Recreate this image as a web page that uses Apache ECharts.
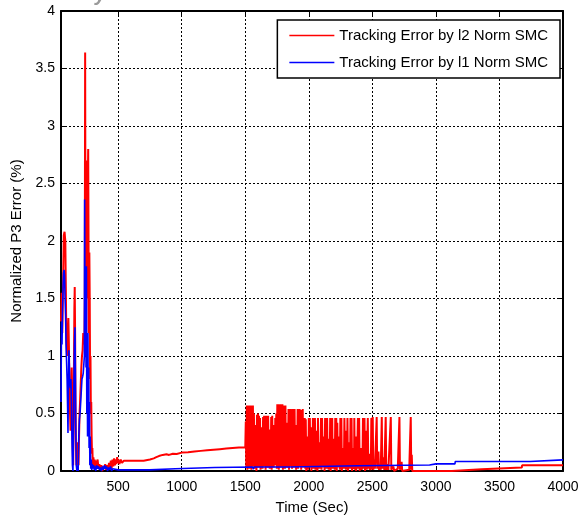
<!DOCTYPE html>
<html><head><meta charset="utf-8">
<script src="https://cdn.jsdelivr.net/npm/echarts@6/dist/echarts.min.js"></script>
<style>html,body{margin:0;padding:0;background:#fff}#c{width:578px;height:521px}</style>
</head><body><div id="c"></div>
<script>
const xTickValues = [500,1000,1500,2000,2500,3000,3500,4000];
const yTickValues = [0,0.5,1,1.5,2,2.5,3,3.5,4];
const seriesNames = ['Tracking Error by l2 Norm SMC','Tracking Error by l1 Norm SMC'];
const xAxisName = 'Time (Sec)';
const yAxisName = 'Normalized P3 Error (%)';

// l2 norm SMC (red)
const redEarly = [[50,1.3],[55,1.55],[60,1.2],[66,1.6],[72,2.05],[78,2.08],[84,2.0],[88,1.6],[92,1.15],[97,1.0],[102,1.15],[108,1.33],[112,1.1],[116,0.8],[120,0.55],[125,0.35],[130,0.6],[134,0.9],[138,0.5],[142,0.2],[146,0.05],[150,0.6],[155,1.4],[158,1.6],[161,1.2],[164,0.6],[168,0.2],[172,0.05],[176,0.25],[180,0.1],[184,0.2],[188,0.05],[192,0.3],[196,0.5],[200,0.6],[205,0.75],[210,0.9],[215,1.0],[220,1.05],[225,1.2],[230,1.2],[234,1.1],[237,1.5],[240,3.64],[243,1.6],[246,1.9],[249,1.2],[252,2.2],[255,2.7],[258,1.5],[261,2.5],[264,2.8],[267,1.9],[270,1.2],[273,1.9],[276,1.5],[279,0.8],[282,1.0],[285,0.5],[288,0.6],[291,0.3],[294,0.15],[297,0.2]];
const redNoise = [[300,0.05],[305,0.12],[310,0.03],[315,0.1],[320,0.02],[325,0.09],[330,0.04],[338,0.1],[345,0.02],[352,0.06],[360,0.01],[368,0.05],[375,0.0],[383,0.04],[390,0.02],[398,0.06],[405,0.01],[412,0.05],[420,0.02],[428,0.07],[435,0.03],[442,0.09],[448,0.02],[455,0.1],[462,0.04],[468,0.11],[474,0.05],[480,0.1],[486,0.06],[492,0.12],[496,0.07]];
const redRamp = [[500,0.1],[510,0.06],[520,0.1],[530,0.07],[545,0.09],[560,0.08],[600,0.09],[650,0.09],[700,0.09],[750,0.1],[780,0.11],[800,0.12],[820,0.13],[835,0.125],[850,0.14],[865,0.135],[880,0.145],[900,0.14],[930,0.15],[960,0.148],[1000,0.16],[1050,0.163],[1100,0.17],[1150,0.175],[1200,0.18],[1250,0.185],[1300,0.19],[1350,0.195],[1400,0.2],[1450,0.205],[1500,0.205]];
const redOscA = [[1504,0.43],[1508,0.03],[1512,0.57],[1516,0.01],[1520,0.57],[1524,0.04],[1528,0.56],[1532,0.02],[1536,0.57],[1540,0.05],[1544,0.57],[1548,0.01],[1552,0.55],[1556,0.04],[1560,0.57],[1564,0.06],[1568,0.5],[1572,0.02],[1576,0.38],[1580,0.05],[1584,0.4],[1588,0.0],[1592,0.49],[1596,0.05],[1600,0.5],[1604,0.03],[1608,0.48],[1612,0.06],[1616,0.46],[1620,0.01],[1624,0.35],[1628,0.05],[1632,0.38],[1636,0.02],[1640,0.47],[1644,0.07],[1648,0.48],[1652,0.04],[1656,0.42],[1660,0.01],[1664,0.48],[1668,0.07],[1672,0.46],[1676,0.03],[1680,0.48],[1684,0.06],[1688,0.3],[1692,0.02],[1696,0.36],[1700,0.06],[1704,0.47],[1708,0.01],[1712,0.48],[1716,0.05],[1720,0.38],[1724,0.03],[1728,0.4],[1732,0.05],[1736,0.46],[1740,0.08],[1744,0.5],[1748,0.02],[1752,0.58],[1756,0.04],[1760,0.58],[1764,0.01],[1768,0.57],[1772,0.05],[1776,0.58],[1780,0.03],[1784,0.47],[1788,0.06],[1792,0.58],[1796,0.01],[1800,0.57],[1804,0.07],[1808,0.55],[1812,0.02],[1816,0.57],[1820,0.05],[1824,0.4],[1828,0.03],[1832,0.42],[1836,0.08],[1840,0.54],[1844,0.01],[1848,0.53],[1852,0.04],[1856,0.54],[1860,0.07],[1864,0.45],[1868,0.02],[1872,0.54],[1876,0.06],[1880,0.52],[1884,0.03],[1888,0.54],[1892,0.05],[1896,0.35],[1900,0.01],[1904,0.4],[1908,0.06],[1912,0.54],[1916,0.02],[1920,0.5],[1924,0.08],[1928,0.54],[1932,0.04],[1936,0.47],[1940,0.01],[1944,0.53],[1948,0.06],[1952,0.54],[1956,0.03],[1960,0.46],[1964,0.05]];
const redOscB = [[1968,0.46],[1972,0.02],[1976,0.45],[1980,0.0],[1984,0.3],[1988,0.05],[1992,0.28],[1996,0.01],[2000,0.46],[2004,0.12],[2008,0.46],[2012,0.03],[2016,0.38],[2020,0.0],[2024,0.2],[2028,0.08],[2032,0.46],[2036,0.02],[2040,0.44],[2044,0.15],[2048,0.46],[2052,0.01],[2056,0.35],[2060,0.04],[2064,0.3],[2068,0.0],[2072,0.46],[2076,0.1],[2080,0.25],[2084,0.02],[2088,0.22],[2092,0.06],[2096,0.46],[2100,0.01],[2104,0.46],[2108,0.18],[2112,0.3],[2116,0.03],[2120,0.3],[2124,0.0],[2128,0.46],[2132,0.07],[2136,0.45],[2140,0.02],[2144,0.46],[2148,0.12],[2152,0.22],[2156,0.01],[2160,0.28],[2164,0.04],[2168,0.46],[2172,0.0],[2176,0.38],[2180,0.09],[2184,0.46],[2188,0.02],[2192,0.2],[2196,0.14],[2200,0.28],[2204,0.01],[2208,0.46],[2212,0.05],[2216,0.46],[2220,0.0],[2224,0.42],[2228,0.11],[2232,0.25],[2236,0.03],[2240,0.3],[2244,0.01],[2248,0.46],[2252,0.06],[2256,0.46],[2260,0.0],[2264,0.18],[2268,0.1],[2272,0.2],[2276,0.02],[2280,0.46],[2284,0.16],[2288,0.35],[2292,0.01],[2296,0.3],[2300,0.04],[2304,0.46],[2308,0.0],[2312,0.25],[2316,0.08],[2320,0.15],[2324,0.02],[2328,0.46],[2332,0.13],[2336,0.46],[2340,0.0],[2344,0.2],[2348,0.05]];
const redOscC = [[2356,0.02],[2358,0.46],[2362,0.01],[2368,0.3],[2372,0.0],[2380,0.08],[2386,0.46],[2390,0.02],[2396,0.46],[2400,0.0],[2406,0.1],[2412,0.2],[2416,0.01],[2422,0.05],[2426,0.46],[2430,0.02],[2438,0.46],[2442,0.0],[2448,0.12],[2452,0.35],[2456,0.01],[2464,0.46],[2468,0.02],[2476,0.15],[2480,0.01],[2488,0.04],[2492,0.46],[2496,0.01]];
const redOscD = [[2500,0.02],[2503,0.47],[2507,0.01],[2515,0.1],[2520,0.02],[2530,0.01],[2534,0.47],[2538,0.02],[2548,0.17],[2552,0.01],[2560,0.05],[2566,0.01],[2574,0.47],[2578,0.02],[2590,0.12],[2594,0.01],[2605,0.47],[2609,0.01],[2620,0.06],[2626,0.01],[2645,0.47],[2649,0.01],[2665,0.04],[2672,0.0],[2700,0.02],[2713,0.47],[2717,0.01],[2730,0.08],[2735,0.0],[2790,0.01],[2802,0.47],[2806,0.01],[2810,0.14],[2814,0.0]];
const redTail = [[3125,0.0],[3127,0.015],[3360,0.015],[3362,0.03],[3676,0.03],[3678,0.05],[4000,0.05]];

// l1 norm SMC (blue)
const blueEarly = [[50,0.6],[54,1.3],[58,1.1],[62,1.4],[66,1.6],[70,1.72],[74,1.75],[78,1.7],[82,1.5],[86,1.35],[90,1.1],[94,0.95],[98,0.8],[102,0.55],[105,0.33],[108,0.7],[112,1.05],[116,0.9],[120,0.75],[124,0.72],[128,0.8],[132,0.6],[136,0.3],[140,0.05],[144,0.0],[148,0.3],[152,0.8],[156,1.1],[160,1.25],[163,0.9],[166,0.4],[170,0.05],[175,0.0],[180,0.05],[185,0.0],[190,0.3],[195,0.45],[200,0.5],[205,0.6],[210,0.7],[215,0.8],[220,0.82],[225,0.85],[230,0.85],[234,1.0],[236,2.36],[238,1.6],[241,1.2],[244,1.75],[247,0.9],[250,1.78],[253,0.5],[256,1.2],[259,0.3],[262,1.2],[265,0.4],[268,0.9],[271,0.2],[274,0.6],[277,0.05],[280,0.3],[284,0.02],[288,0.1],[292,0.01],[296,0.06]];
const blueNoise = [[300,0.02],[306,0.05],[312,0.01],[318,0.04],[324,0.0],[330,0.05],[338,0.02],[345,0.04],[352,0.01],[360,0.03],[368,0.0],[376,0.04],[384,0.01],[392,0.05],[400,0.02],[408,0.04],[416,0.0],[424,0.03],[432,0.01],[440,0.04],[448,0.0],[456,0.02],[470,0.01]];
const blueSteps = [[500,0.01],[748,0.01],[750,0.02],[950,0.02],[952,0.03],[1260,0.03],[1262,0.035],[1560,0.035],[1562,0.015],[1570,0.035],[1700,0.035],[1702,0.02],[1708,0.035],[1838,0.035],[1840,0.045],[2388,0.045],[2390,0.052],[2950,0.052],[2952,0.062],[3000,0.062],[3004,0.07],[3010,0.062],[3150,0.062],[3152,0.082],[3740,0.082],[3742,0.097],[4000,0.097]];

const redData = [].concat(redEarly, redNoise, redRamp, redOscA, redOscB, redOscC, redOscD, redTail);
const blueData = [].concat(blueEarly, blueNoise, blueSteps);

const FONT = 'Liberation Sans, Arial, sans-serif';
const chart = echarts.init(document.getElementById('c'), null, {renderer: 'canvas'});
const grid = {left: 61, right: 15, top: 11, bottom: 50, outerBoundsMode: 'none'};
const plain = v => String(v);
chart.setOption({
  animation: false,
  backgroundColor: '#fff',
  grid: grid,
  graphic: [{type: 'text', left: 95, top: -15, style: {text: 'y', font: 'italic bold 20px ' + FONT, fill: '#9a9a9a'}}],
  legend: {
    right: 18, top: 20, orient: 'vertical', align: 'left',
    backgroundColor: '#fff', borderColor: '#000', borderWidth: 1.5, borderRadius: 0,
    padding: [8, 12, 8, 12], itemGap: 12, itemWidth: 45, itemHeight: 1.5, icon: 'rect',
    textStyle: {fontFamily: FONT, fontSize: 15, color: '#000'},
    data: seriesNames
  },
  xAxis: [{
    type: 'value', min: 50, max: 4000, position: 'bottom',
    name: xAxisName, nameLocation: 'middle', nameGap: 29,
    nameTextStyle: {fontFamily: FONT, fontSize: 15, color: '#000'},
    axisLine: {show: true, onZero: false, lineStyle: {color: '#000', width: 2}},
    axisTick: {show: true, inside: true, length: 5, customValues: xTickValues, lineStyle: {color: '#000', width: 1}},
    axisLabel: {customValues: xTickValues, formatter: plain, fontFamily: FONT, fontSize: 14, color: '#000', margin: 9},
    splitLine: {show: true, lineStyle: {color: '#000', width: 1, type: [2, 2]}}
  }, {
    type: 'value', min: 50, max: 4000, position: 'top',
    axisLine: {show: true, onZero: false, lineStyle: {color: '#000', width: 2}},
    axisTick: {show: true, inside: true, length: 5, customValues: xTickValues, lineStyle: {color: '#000', width: 1}},
    axisLabel: {show: false}, splitLine: {show: false}
  }],
  yAxis: [{
    type: 'value', min: 0, max: 4, interval: 0.5, position: 'left',
    name: yAxisName, nameLocation: 'middle', nameGap: 37, nameRotate: 90,
    nameTextStyle: {fontFamily: FONT, fontSize: 15, color: '#000'},
    axisLine: {show: true, onZero: false, lineStyle: {color: '#000', width: 2}},
    axisTick: {show: true, inside: true, length: 5, lineStyle: {color: '#000', width: 1}},
    axisLabel: {formatter: plain, fontFamily: FONT, fontSize: 14, color: '#000', margin: 6},
    splitLine: {show: true, lineStyle: {color: '#000', width: 1, type: [2, 2]}}
  }, {
    type: 'value', min: 0, max: 4, interval: 0.5, position: 'right',
    axisLine: {show: true, onZero: false, lineStyle: {color: '#000', width: 2}},
    axisTick: {show: true, inside: true, length: 5, lineStyle: {color: '#000', width: 1}},
    axisLabel: {show: false}, splitLine: {show: false}
  }],
  series: [{
    name: seriesNames[0], type: 'line', data: redData, xAxisIndex: 0, yAxisIndex: 0,
    symbol: 'none', showSymbol: false, sampling: 'none',
    lineStyle: {color: '#ff0000', width: 2}, itemStyle: {color: '#ff0000'}, z: 2
  }, {
    name: seriesNames[1], type: 'line', data: blueData, xAxisIndex: 0, yAxisIndex: 0,
    symbol: 'none', showSymbol: false,
    lineStyle: {color: '#0000ff', width: 1.6}, itemStyle: {color: '#0000ff'}, z: 3
  }]
});
</script></body></html>
